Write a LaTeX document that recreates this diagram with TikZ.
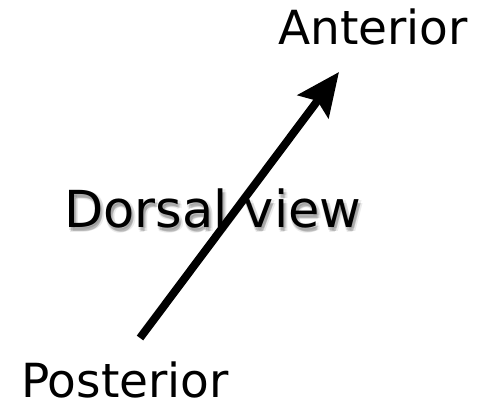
\documentclass[tikz,border=0pt]{standalone}
\usepackage{fontspec}
\setmainfont{DejaVu Sans}
\usetikzlibrary{arrows.meta}
\begin{document}
\begin{tikzpicture}[x=1pt,y=1pt,
  lbl/.style={anchor=base west, inner sep=0pt, font=\fontsize{47}{50}\selectfont},
  dlbl/.style={anchor=base west, inner sep=0pt, font=\fontsize{51}{55}\selectfont},
  shd/.style={dlbl, text=black, text opacity=0.08},
  arr/.style={line width=8pt, -{Stealth[length=43pt,width=38pt,inset=7pt]}}]
\useasboundingbox (0,0) rectangle (477,405);
% shadow of Dorsal view
\foreach \dx/\dy in {2/-3,0/-2,4/-4,1/-5,3/-1,2/-3}{
  \node[shd] at (64+\dx,177+\dy) {Dorsal view};
}
\node[dlbl] (dorsal) at (64,177) {Dorsal view};
\node[lbl] (ant) at (278,360) {Anterior};
\node[lbl] (post) at (21,8) {Posterior};
\coordinate (tail) at (140,67);
\coordinate (tip) at (339,333);
\draw[arr] (tail) -- (tip);
\end{tikzpicture}
\end{document}
